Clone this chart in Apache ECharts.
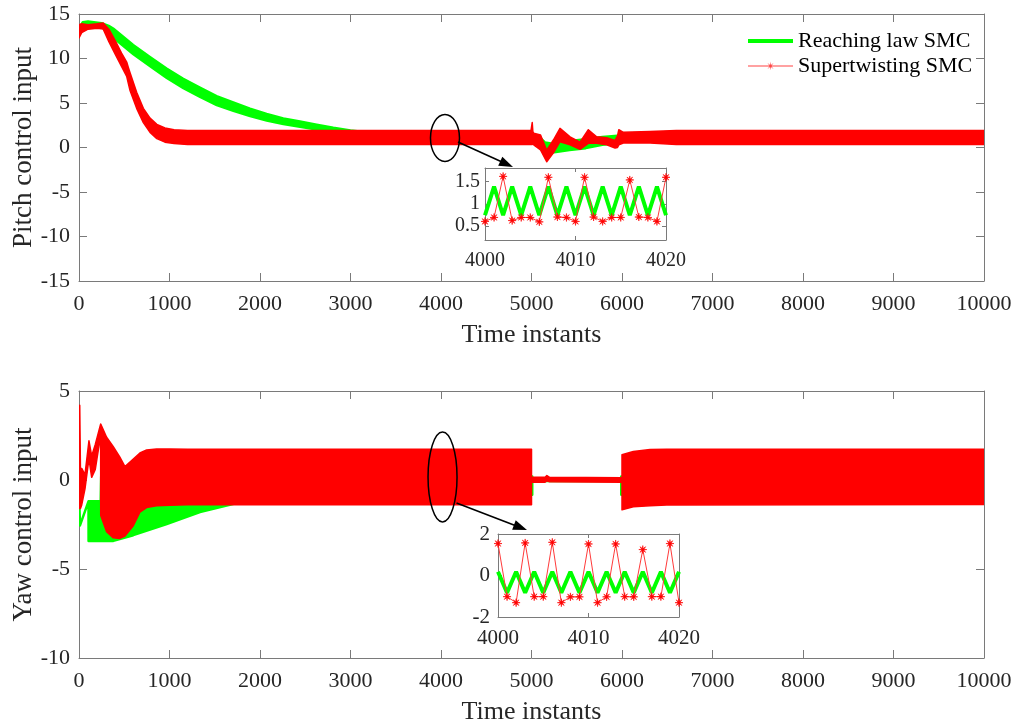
<!DOCTYPE html>
<html>
<head>
<meta charset="utf-8">
<script src="https://cdn.jsdelivr.net/npm/echarts@6/dist/echarts.min.js"></script>
<style>html,body{margin:0;padding:0;background:#fff}#c{width:1024px;height:726px}</style>
</head>
<body>
<div id="c"></div>
<script>
// ---------- data ----------
// Pitch, Reaching law SMC: envelope of the band (upper / lower)
const pitchGreenT  = [0,40,100,250,330,379,600,785,969,1153,1337,1521,1705,1890,2074,2258,2442,2626,2810,3000,3300,3600,4995,5080,5150,5232,5420,5600,5784,5950,6010,10000];
const pitchGreenUp = [13.4,14.1,14.2,14.0,13.7,13.4,11.55,10.2,8.9,7.75,6.75,5.8,5.1,4.4,3.8,3.3,2.95,2.6,2.25,1.95,1.6,1.4,1.4,1.3,0.6,0.45,0.75,0.95,1.2,1.35,1.38,1.38];
const pitchGreenLo = [12.8,13.5,13.7,13.5,12.8,12.3,10.45,9.1,7.8,6.65,5.65,4.75,4.1,3.5,3.0,2.6,2.3,2.0,1.7,1.4,1.05,0.8,0.75,0.5,-0.4,-0.6,-0.3,-0.1,0.28,0.47,0.72,0.72];
// Pitch, Supertwisting SMC
const pitchRedT  = [0,30,100,200,268,330,400,470,527,545,564,637,711,785,860,950,1050,1200,4995,5008,5015,5025,5100,5168,5242,5315,5426,5536,5628,5720,5831,5923,5950,5965,6015,6310,6600,10000];
const pitchRedUp = [13.8,13.9,13.8,13.9,14.0,13.3,12.0,10.6,9.6,9.0,8.4,6.2,4.4,3.3,2.6,2.2,2.0,1.92,1.92,2.8,1.8,1.6,1.4,-0.3,0.84,2.15,1.2,0.6,2.0,1.2,1.1,0.8,1.3,2.0,1.7,1.8,1.92,1.92];
const pitchRedLo = [12.3,12.9,13.3,13.4,13.3,11.9,10.5,9.1,8.0,7.2,6.4,4.4,2.8,1.7,1.0,0.6,0.45,0.33,0.33,0.33,0.4,0.3,-0.28,-1.6,-0.6,0.65,0.3,-0.2,0.47,0.47,0.3,-0.06,0.0,0.3,0.5,0.5,0.33,0.33];
// Yaw, Reaching law SMC
const yawGreenT  = [0,11,105,106,240,245,380,600,969,1337,1632,1900,2500,5008,5008,5992,5992,10000];
const yawGreenUp = [-0.6,-2.55,-1.2,-1.2,-1.2,0.2,0.2,0.2,0.2,0.2,0.2,0.2,0.2,0.2,0.1,0.1,0.2,0.2];
const yawGreenLo = [-0.6,-2.55,-1.2,-3.42,-3.42,-3.42,-3.42,-3.1,-2.47,-1.8,-1.44,-1.1,-0.85,-0.83,-0.05,-0.05,-0.83,-0.83];
// Yaw, Supertwisting SMC
const yawRedT  = [0,8,16,30,66,110,140,180,239,240,305,379,450,508,600,673,747,857,1004,1200,5000,5000,5150,5170,5200,6000,6000,6125,6310,6494,10000];
const yawRedUp = [0.6,4.2,0.6,0.65,0.3,2.2,1.35,2.0,3.14,3.14,2.4,1.87,1.3,0.75,1.18,1.52,1.69,1.74,1.74,1.73,1.73,0.15,0.15,0.25,0.15,0.12,1.42,1.6,1.72,1.73,1.73];
const yawRedLo = [-1.6,-1.6,-1.6,-1.4,-0.5,1.2,0.15,0.6,2.5,-2.0,-2.9,-3.25,-3.28,-3.15,-2.57,-1.81,-1.55,-1.45,-1.42,-1.39,-1.39,-0.12,-0.12,-0.05,-0.1,-0.12,-1.67,-1.5,-1.45,-1.4,-1.38];
// Zoomed insets (time instants 4000..4020)
const insetT = [4000,4001,4002,4003,4004,4005,4006,4007,4008,4009,4010,4011,4012,4013,4014,4015,4016,4017,4018,4019,4020];
const pitchInsetGreen = [0.74,1.39,0.74,1.39,0.74,1.39,0.74,1.39,0.74,1.39,0.74,1.39,0.74,1.39,0.74,1.39,0.74,1.39,0.74,1.39,0.74];
const pitchInsetRed   = [0.60,0.69,1.62,0.62,0.69,0.69,0.59,1.60,0.70,0.69,0.60,1.60,0.70,0.60,0.69,0.69,1.54,0.70,0.69,0.60,1.60];
const yawInsetGreen = [0.18,-0.83,0.18,-0.83,0.18,-0.83,0.18,-0.83,0.18,-0.83,0.18,-0.83,0.18,-0.83,0.18,-0.83,0.18,-0.83,0.18,-0.83,0.18];
const yawInsetRed   = [1.54,-1.02,-1.31,1.57,-1.02,-1.02,1.60,-1.31,-1.03,-1.03,1.52,-1.31,-1.03,1.52,-1.02,-1.03,1.25,-1.02,-1.02,1.54,-1.31];
// tick labels
const xTicksMain = [0,1000,2000,3000,4000,5000,6000,7000,8000,9000,10000];
const pitchYTicks = [-15,-10,-5,0,5,10,15];
const yawYTicks = [-10,-5,0,5];
const pitchInsetYTicks = [0.5,1,1.5];
const yawInsetYTicks = [-2,0,2];
const insetXTicks = [4000,4010,4020];

// ---------- styles ----------
const FF = '"Liberation Serif","Times New Roman",serif';
const AX = '#7a7a7a';
const TXT = '#262626';
const GREEN = '#00ff00';
const RED = '#ff0000';

function starStr(cx, cy, R, r) {
  let s = '';
  for (let k = 0; k < 16; k++) {
    const rr = (k % 2 === 0) ? R : r;
    const a = k * Math.PI / 8 - Math.PI / 2;
    s += (k === 0 ? 'M' : 'L') + (cx + rr * Math.cos(a)).toFixed(3) + ',' + (cy + rr * Math.sin(a)).toFixed(3);
  }
  return s + 'Z';
}
// 8-point asterisk-like star marker
const starPath = 'path://' + starStr(5, 5, 5, 1.3);
// legend icon: thin line with a small star in the middle (box 45 x 9)
const legendStarIcon = 'path://M0,3.9L45,3.9L45,5.1L0,5.1Z' + starStr(22.5, 4.5, 4.5, 1.2);

function pairs(xs, ys) { return xs.map((x, i) => [x, ys[i]]); }
const plain = v => String(v);

function band(name, axisIdx, T, U, L, color, lw, z) {
  return {
    type: 'custom', name: name, xAxisIndex: axisIdx, yAxisIndex: axisIdx, z: z, silent: true, clip: true,
    data: [[T[0], L[0]]], encode: { x: 0, y: 1 },
    renderItem: function (params, api) {
      const pts = [];
      for (let i = 0; i < T.length; i++) pts.push(api.coord([T[i], U[i]]));
      for (let i = T.length - 1; i >= 0; i--) pts.push(api.coord([T[i], L[i]]));
      return { type: 'polygon', shape: { points: pts },
        style: { fill: color, stroke: color, lineWidth: lw, lineJoin: 'round' } };
    }
  };
}

function xAx(grid, pos, min, max, interval, opts) {
  const o = {
    gridIndex: grid, type: 'value', position: pos, min: min, max: max, interval: interval,
    axisLine: { show: true, onZero: false, lineStyle: { color: AX, width: 1 } },
    axisTick: { show: true, inside: true, length: opts.tick || 8, lineStyle: { color: AX } },
    axisLabel: { show: !!opts.label, margin: opts.margin || 12, fontSize: opts.fs || 22, color: TXT, fontFamily: FF, formatter: plain },
    splitLine: { show: false }
  };
  if (opts.name) {
    o.name = opts.name; o.nameLocation = 'middle'; o.nameGap = opts.nameGap;
    o.nameTextStyle = { fontSize: 26, color: TXT, fontFamily: FF };
  }
  return o;
}
function yAx(grid, pos, min, max, interval, opts) {
  const o = {
    gridIndex: grid, type: 'value', position: pos, min: min, max: max,
    axisLine: { show: true, onZero: false, lineStyle: { color: AX, width: 1 } },
    axisTick: { show: true, inside: true, length: opts.tick || 8, lineStyle: { color: AX } },
    axisLabel: { show: !!opts.label, margin: opts.margin || 9, fontSize: opts.fs || 22, color: TXT, fontFamily: FF, formatter: plain },
    splitLine: { show: false }
  };
  if (interval) o.interval = interval;
  if (opts.custom) { o.axisLabel.customValues = opts.custom; o.axisTick.customValues = opts.custom; }
  if (opts.name) {
    o.name = opts.name; o.nameLocation = 'middle'; o.nameGap = opts.nameGap; o.nameMoveOverlap = false;
    o.nameTextStyle = { fontSize: 27, color: TXT, fontFamily: FF };
  }
  return o;
}

const chart = echarts.init(document.getElementById('c'), null, { renderer: 'canvas' });

const option = {
  backgroundColor: '#ffffff',
  animation: false,
  grid: [
    { left: 79, top: 14, width: 905, height: 267, outerBoundsMode: 'none' },
    { left: 79, top: 391, width: 905, height: 267, outerBoundsMode: 'none' },
    { left: 485, top: 168, width: 181, height: 72, show: true, backgroundColor: '#fff', borderWidth: 0, outerBoundsMode: 'none' },
    { left: 498, top: 534, width: 181, height: 83, show: true, backgroundColor: '#fff', borderWidth: 0, outerBoundsMode: 'none' }
  ],
  xAxis: [
    xAx(0, 'bottom', xTicksMain[0], xTicksMain[xTicksMain.length - 1], 1000, { label: true, name: 'Time instants', nameGap: 41 }),
    xAx(0, 'top', xTicksMain[0], xTicksMain[xTicksMain.length - 1], 1000, {}),
    xAx(1, 'bottom', xTicksMain[0], xTicksMain[xTicksMain.length - 1], 1000, { label: true, name: 'Time instants', nameGap: 41 }),
    xAx(1, 'top', xTicksMain[0], xTicksMain[xTicksMain.length - 1], 1000, {}),
    xAx(2, 'bottom', insetXTicks[0], insetXTicks[2], 10, { label: true, margin: 11, fs: 20, tick: 4 }),
    xAx(2, 'top', insetXTicks[0], insetXTicks[2], 10, { tick: 4 }),
    xAx(3, 'bottom', insetXTicks[0], insetXTicks[2], 10, { label: true, margin: 11, fs: 21, tick: 4 }),
    xAx(3, 'top', insetXTicks[0], insetXTicks[2], 10, { tick: 4 })
  ],
  yAxis: [
    yAx(0, 'left', pitchYTicks[0], pitchYTicks[pitchYTicks.length - 1], 5, { label: true, name: 'Pitch control input', nameGap: 42 }),
    yAx(0, 'right', pitchYTicks[0], pitchYTicks[pitchYTicks.length - 1], 5, {}),
    yAx(1, 'left', yawYTicks[0], yawYTicks[yawYTicks.length - 1], 5, { label: true, name: 'Yaw control input', nameGap: 42 }),
    yAx(1, 'right', yawYTicks[0], yawYTicks[yawYTicks.length - 1], 5, {}),
    yAx(2, 'left', 0.18, 1.81, null, { label: true, margin: 5, fs: 20, tick: 4, custom: pitchInsetYTicks }),
    yAx(2, 'right', 0.18, 1.81, null, { tick: 4, custom: pitchInsetYTicks }),
    yAx(3, 'left', yawInsetYTicks[0], yawInsetYTicks[2], 2, { label: true, margin: 8, fs: 21, tick: 4 }),
    yAx(3, 'right', yawInsetYTicks[0], yawInsetYTicks[2], 2, { tick: 4 })
  ],
  legend: {
    data: [
      { name: 'Reaching law SMC', itemStyle: { opacity: 0 }, lineStyle: { width: 4, color: GREEN } },
      { name: 'Supertwisting SMC', icon: legendStarIcon, itemStyle: { color: '#ff4545', borderWidth: 0 } }
    ],
    orient: 'vertical', left: 746, top: 30, padding: 0, itemGap: 3,
    itemWidth: 45, itemHeight: 9, selectedMode: false,
    textStyle: { fontFamily: FF, fontSize: 22, color: '#000', lineHeight: 22 }
  },
  series: [
    band('pitch-green', 0, pitchGreenT, pitchGreenUp, pitchGreenLo, GREEN, 2, 2),
    band('pitch-red', 0, pitchRedT, pitchRedUp, pitchRedLo, RED, 1.5, 3),
    band('yaw-green', 2, yawGreenT, yawGreenUp, yawGreenLo, GREEN, 2.5, 2),
    band('yaw-red', 2, yawRedT, yawRedUp, yawRedLo, RED, 1.5, 3),
    { type: 'line', name: 'Reaching law SMC', xAxisIndex: 4, yAxisIndex: 4, data: pairs(insetT, pitchInsetGreen),
      symbol: 'none', lineStyle: { color: GREEN, width: 4 }, itemStyle: { color: GREEN }, z: 3, silent: true },
    { type: 'line', name: 'Supertwisting SMC', xAxisIndex: 4, yAxisIndex: 4, data: pairs(insetT, pitchInsetRed),
      symbol: starPath, symbolSize: 8, showAllSymbol: true, lineStyle: { color: '#ff3a3a', width: 1 },
      itemStyle: { color: RED, borderColor: RED, borderWidth: 0.6 }, z: 4, silent: true },
    { type: 'line', name: 'Reaching law SMC', xAxisIndex: 6, yAxisIndex: 6, data: pairs(insetT, yawInsetGreen),
      symbol: 'none', lineStyle: { color: GREEN, width: 4 }, itemStyle: { color: GREEN }, z: 3, silent: true },
    { type: 'line', name: 'Supertwisting SMC', xAxisIndex: 6, yAxisIndex: 6, data: pairs(insetT, yawInsetRed),
      symbol: starPath, symbolSize: 8, showAllSymbol: true, lineStyle: { color: '#ff3a3a', width: 1 },
      itemStyle: { color: RED, borderColor: RED, borderWidth: 0.6 }, z: 4, silent: true }
  ]
};
chart.setOption(option);

// annotations: ellipses around the zoomed region and arrows to the insets
function arrow(x1, y1, x2, y2) {
  const dx = x2 - x1, dy = y2 - y1, L = Math.sqrt(dx * dx + dy * dy);
  const ux = dx / L, uy = dy / L, px = -uy, py = ux;
  const hl = 14, hw = 5;
  const bx = x2 - ux * hl, by = y2 - uy * hl;
  return [
    { type: 'line', z: 100, shape: { x1: x1, y1: y1, x2: bx + ux * 2, y2: by + uy * 2 }, style: { stroke: '#000', lineWidth: 1.6 } },
    { type: 'polygon', z: 100, shape: { points: [[x2, y2], [bx + px * hw, by + py * hw], [bx - px * hw, by - py * hw]] }, style: { fill: '#000' } }
  ];
}
const e1 = chart.convertToPixel({ xAxisIndex: 0, yAxisIndex: 0 }, [4044, 1.07]);
const e2 = chart.convertToPixel({ xAxisIndex: 2, yAxisIndex: 2 }, [4017, 0.17]);
const g1 = chart.convertToPixel({ xAxisIndex: 4, yAxisIndex: 4 }, [4000, 1.81]);
const g2 = chart.convertToPixel({ xAxisIndex: 6, yAxisIndex: 6 }, [4000, 2]);
const elements = [
  { type: 'ellipse', z: 100, shape: { cx: e1[0], cy: e1[1], rx: 14.5, ry: 23.5 }, style: { fill: null, stroke: '#000', lineWidth: 1.5 } },
  { type: 'ellipse', z: 100, shape: { cx: e2[0], cy: e2[1], rx: 14.5, ry: 45 }, style: { fill: null, stroke: '#000', lineWidth: 1.5 } }
].concat(
  arrow(e1[0] + 13, e1[1] + 4, g1[0] + 28, g1[1] - 1),
  arrow(e2[0] + 14, e2[1] + 26, g2[0] + 29, g2[1] - 4)
);
chart.setOption({ graphic: { elements: elements } });
</script>
</body>
</html>
